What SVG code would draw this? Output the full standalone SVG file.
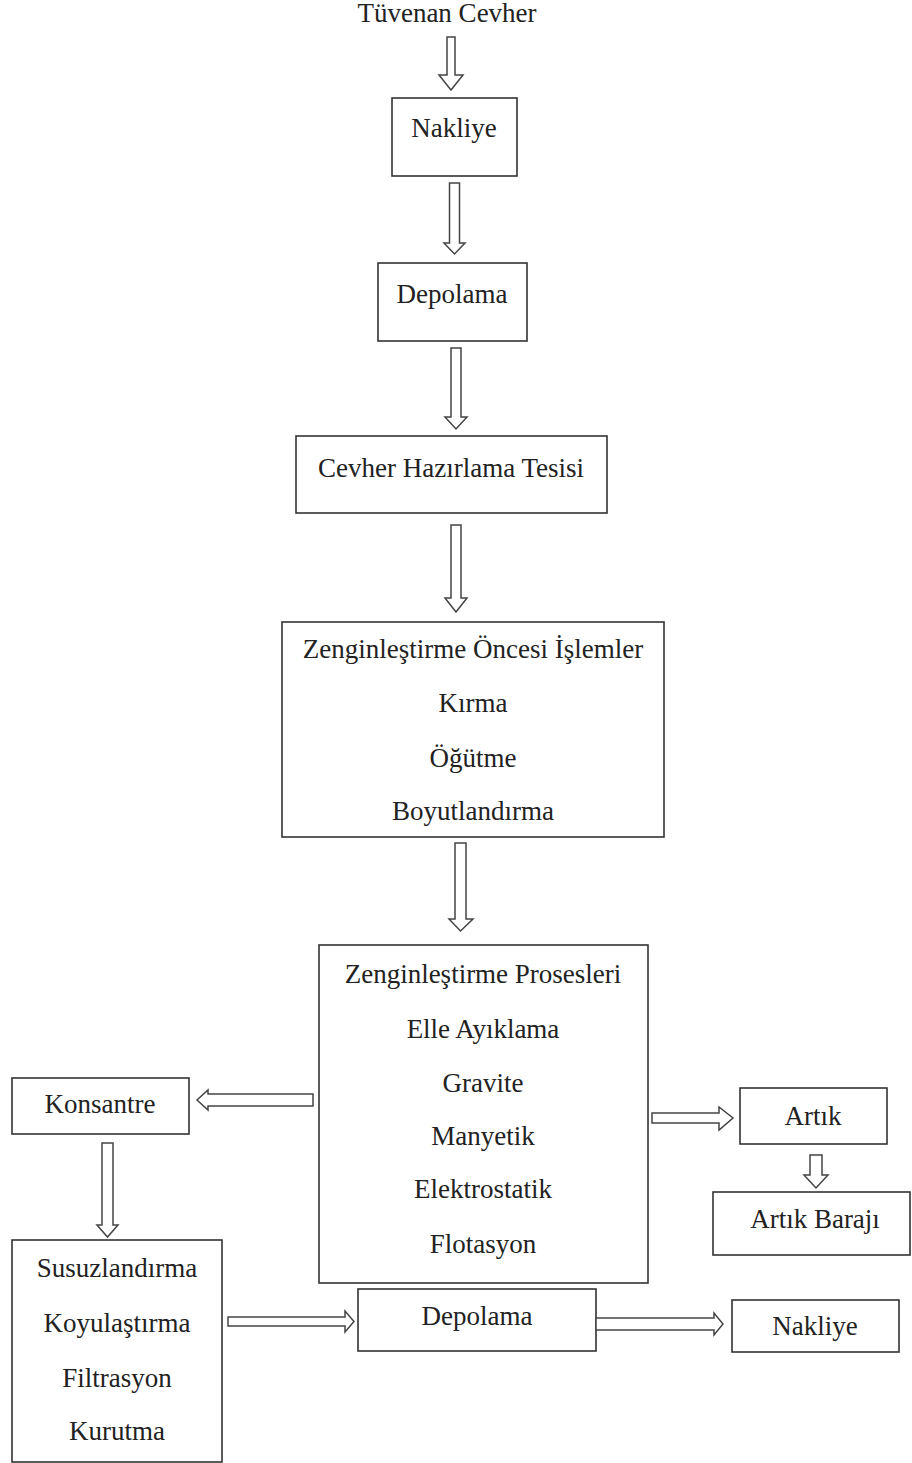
<svg xmlns="http://www.w3.org/2000/svg" width="912" height="1463" viewBox="0 0 912 1463">
<style>
.box{fill:#fff;stroke:#333;stroke-width:1.6}
.arr{fill:#fff;stroke:#444;stroke-width:1.5;stroke-linejoin:miter}
text{font-family:"Liberation Serif","Times New Roman",serif;font-size:27px;fill:#222;text-anchor:middle}
</style>
<rect width="912" height="1463" fill="#fff"/>
<g id="tuvenan"><text x="447" y="22">Tüvenan Cevher</text></g>
<g id="nakliye1"><rect class="box" x="392" y="98" width="125" height="78"/><text x="454" y="137">Nakliye</text></g>
<g id="depolama1"><rect class="box" x="378" y="263" width="149" height="78"/><text x="452" y="303">Depolama</text></g>
<g id="cevher"><rect class="box" x="296" y="436" width="311" height="77"/><text x="451" y="477">Cevher Hazırlama Tesisi</text></g>
<g id="oncesi"><rect class="box" x="282" y="622" width="382" height="215"/>
<text x="473" y="658">Zenginleştirme Öncesi İşlemler</text>
<text x="473" y="712">Kırma</text>
<text x="473" y="767">Öğütme</text>
<text x="473" y="820">Boyutlandırma</text></g>
<g id="prosesler"><rect class="box" x="319" y="945" width="329" height="338"/>
<text x="483" y="983">Zenginleştirme Prosesleri</text>
<text x="483" y="1038">Elle Ayıklama</text>
<text x="483" y="1092">Gravite</text>
<text x="483" y="1145">Manyetik</text>
<text x="483" y="1198">Elektrostatik</text>
<text x="483" y="1253">Flotasyon</text></g>
<g id="konsantre"><rect class="box" x="12" y="1078" width="177" height="56"/><text x="100" y="1113">Konsantre</text></g>
<g id="artik"><rect class="box" x="740" y="1088" width="147" height="56"/><text x="813" y="1125">Artık</text></g>
<g id="artikbaraji"><rect class="box" x="713" y="1192" width="197" height="63"/><text x="815" y="1228">Artık Barajı</text></g>
<g id="susuz"><rect class="box" x="12" y="1240" width="210" height="222"/>
<text x="117" y="1277">Susuzlandırma</text>
<text x="117" y="1332">Koyulaştırma</text>
<text x="117" y="1387">Filtrasyon</text>
<text x="117" y="1440">Kurutma</text></g>
<g id="depolama2"><rect class="box" x="358" y="1289" width="238" height="62"/><text x="477" y="1325">Depolama</text></g>
<g id="nakliye2"><rect class="box" x="732" y="1300" width="167" height="52"/><text x="815" y="1335">Nakliye</text></g>
<g id="connectors">
<polygon class="arr" points="447,37 455,37 455,75 463,75 451,90 439,75 447,75"/>
<polygon class="arr" points="449.5,183 459.5,183 459.5,243 465,243 454.5,254 444,243 449.5,243"/>
<polygon class="arr" points="451,348 461,348 461,417 467,417 456,429 445,417 451,417"/>
<polygon class="arr" points="451,525 461,525 461,598 467,598 456,612 445,598 451,598"/>
<polygon class="arr" points="455,843 466,843 466,919 473,919 460.5,931 449,919 455,919"/>
<polygon class="arr" points="313,1094 313,1106 208,1106 208,1110 197,1100 208,1090 208,1094"/>
<polygon class="arr" points="652,1113 719,1113 719,1107 733,1118 719,1130 719,1123 652,1123"/>
<polygon class="arr" points="810,1155 822,1155 822,1175 828,1175 816,1188 804,1175 810,1175"/>
<polygon class="arr" points="102,1143 113,1143 113,1225 118,1225 107.5,1237 97,1225 102,1225"/>
<polygon class="arr" points="228,1317 345,1317 345,1311 354,1321.5 345,1332 345,1326 228,1326"/>
<polygon class="arr" points="596,1318 714,1318 714,1313 723,1324 714,1335 714,1330 596,1330"/>
</g>
</svg>
